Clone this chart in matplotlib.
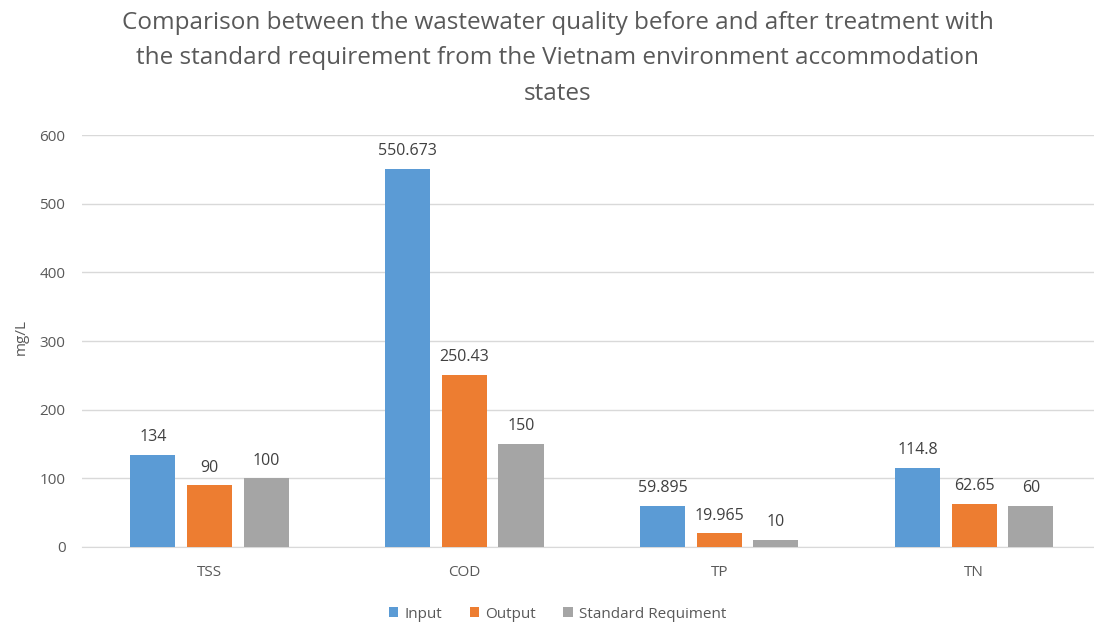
import matplotlib.pyplot as plt
import numpy as np

categories = ["TSS", "COD", "TP", "TN"]
input_vals = [134, 550.673, 59.895, 114.8]
output_vals = [90, 250.43, 19.965, 62.65]
standard_vals = [100, 150, 10, 60]
input_labels = ["134", "550.673", "59.895", "114.8"]
output_labels = ["90", "250.43", "19.965", "62.65"]
standard_labels = ["100", "150", "10", "60"]

plt.rcParams["font.family"] = ["Open Sans", "DejaVu Sans"]
text_color = "#595959"

fig = plt.figure(figsize=(10.94, 6.23), dpi=100)
ax = fig.add_axes([0.075, 0.122, 0.925, 0.661])

x = np.arange(len(categories))
width = 0.177
step = 0.222

series = [
    (input_vals, input_labels, "#5b9bd5", "Input"),
    (output_vals, output_labels, "#ed7d31", "Output"),
    (standard_vals, standard_labels, "#a5a5a5", "Standard Requiment"),
]
for i, (vals, labels, color, name) in enumerate(series):
    pos = x + (i - 1) * step
    bars = ax.bar(pos, vals, width, color=color, label=name, zorder=3)
    for bar, lab in zip(bars, labels):
        ax.annotate(lab, (bar.get_x() + bar.get_width() / 2, bar.get_height()),
                    xytext=(0, 7), textcoords="offset points",
                    ha="center", va="bottom", fontsize=11.5, color="#404040")

# the right side of the plot area runs off the image edge, as in the source
ax.set_xlim(-0.5, 3.47)
ax.set_ylim(0, 600)
ax.set_yticks(range(0, 601, 100))
ax.set_xticks(x)
ax.set_xticklabels(categories)
ax.grid(True, axis="y", color="#d9d9d9", linewidth=1, zorder=0)
ax.set_axisbelow(True)
for s in ["top", "right", "left"]:
    ax.spines[s].set_visible(False)
ax.spines["bottom"].set_color("#d9d9d9")
ax.tick_params(axis="y", length=0, colors=text_color, labelsize=11, pad=12)
ax.tick_params(axis="x", length=0, colors=text_color, labelsize=11, pad=13)
ax.set_ylabel("mg/L", fontsize=11, color=text_color)
ax.yaxis.set_label_coords(-0.053, 0.51)

fig.suptitle("Comparison between the wastewater quality before and after treatment with\n"
             "the standard requirement from the Vietnam environment accommodation\n"
             "states", fontsize=17.5, color=text_color, x=0.51, y=0.982, linespacing=1.62)

ax.legend(loc="center", bbox_to_anchor=(0.47, -0.163), ncol=3, frameon=False,
          fontsize=11, labelcolor=text_color, handlelength=0.6, handleheight=0.6,
          handletextpad=0.4, columnspacing=1.8)

fig.savefig("out.png", dpi=100, facecolor="white")
